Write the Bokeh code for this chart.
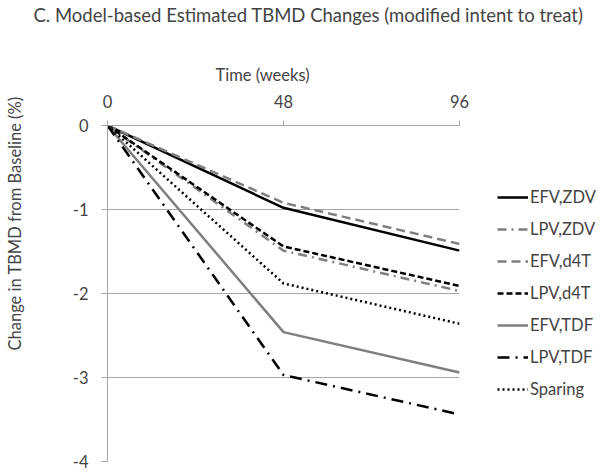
from bokeh.plotting import figure
from bokeh.models import (Range1d, LinearAxis, FixedTicker, Legend, LegendItem, Title)
from bokeh.embed import file_html
from bokeh.resources import INLINE

weeks = [0, 48, 96]
week_ticks = [0, 48, 96]
y_ticks = [0, -1, -2, -3, -4]
y_tick_labels = ["0", "-1", "-2", "-3", "-4"]

series_names = ["EFV,ZDV", "LPV,ZDV", "EFV,d4T", "LPV,d4T", "EFV,TDF", "LPV,TDF", "Sparing"]
efv_zdv = [0, -0.98, -1.49]
lpv_zdv = [0, -1.49, -1.97]
efv_d4t = [0, -0.92, -1.41]
lpv_d4t = [0, -1.44, -1.91]
efv_tdf = [0, -2.46, -2.94]
lpv_tdf = [0, -2.97, -3.44]
sparing = [0, -1.88, -2.36]

FONT = "Lato"
FS = "16.5px"
BLACK = "#000000"
GRAY = "#7f7f7f"
AXC = "#a6a6a6"

p = figure(frame_width=352, frame_height=336, output_backend="svg", toolbar_location=None,
           x_range=Range1d(0, 96), y_range=Range1d(-4, 0),
           x_axis_location=None, y_axis_location=None,
           min_border_left=107, min_border_right=141, min_border_top=124, min_border_bottom=13)
p.outline_line_color = None
p.xgrid.grid_line_color = None
p.ygrid.grid_line_color = AXC
p.ygrid.grid_line_width = 1.2
p.ygrid.ticker = FixedTicker(ticks=y_ticks)

xa = LinearAxis(ticker=FixedTicker(ticks=week_ticks))
xa.axis_line_color = AXC
xa.major_tick_line_color = AXC
xa.major_tick_out = 5
xa.major_tick_in = 0
xa.minor_tick_line_color = None
xa.major_label_text_font = FONT
xa.major_label_text_font_size = FS
xa.major_label_standoff = 13
p.add_layout(xa, "above")

ya = LinearAxis(ticker=FixedTicker(ticks=y_ticks),
                major_label_overrides={t: s for t, s in zip(y_ticks, y_tick_labels)})
ya.axis_line_color = AXC
ya.major_tick_line_color = AXC
ya.major_tick_out = 6
ya.major_tick_in = 0
ya.minor_tick_line_color = None
ya.major_label_text_font = FONT
ya.major_label_text_font_size = FS
ya.major_label_standoff = 13
p.add_layout(ya, "left")

specs = [
    (efv_zdv, BLACK, "solid"),
    (lpv_zdv, GRAY, "9 5 2 5"),
    (efv_d4t, GRAY, "9 5"),
    (lpv_d4t, BLACK, "6 3"),
    (efv_tdf, GRAY, "solid"),
    (lpv_tdf, BLACK, "12 6 2 6"),
    (sparing, BLACK, "2 3"),
]
items = []
for name, (vals, col, dash) in zip(series_names, specs):
    r = p.line(weeks, vals, line_color=col, line_width=2.5, line_dash=dash)
    items.append(LegendItem(label=name, renderers=[r]))

legend = Legend(items=items, location="center_left")
legend.border_line_color = None
legend.background_fill_alpha = 0
legend.label_text_font = FONT
legend.label_text_font_size = FS
legend.glyph_width = 31
legend.spacing = 12
legend.label_standoff = 2
legend.padding = 0
legend.margin = 38
p.add_layout(legend, "right")

xlabel = Title(text="Time (weeks)", text_font=FONT, text_font_size=FS,
               text_font_style="normal", align="left", offset=108, standoff=13)
p.add_layout(xlabel, "above")

spacer_top = Title(text=" ", text_font_size="1px", standoff=27)
p.add_layout(spacer_top, "above")

title = Title(text="C. Model-based Estimated TBMD Changes (modified intent to treat)",
              text_font=FONT, text_font_size="18.5px", text_font_style="normal",
              align="left", offset=-74, standoff=2)
p.add_layout(title, "above")

spacer_left = Title(text=" ", text_font_size="1px", standoff=41)
p.add_layout(spacer_left, "left")

ylabel = Title(text="Change in TBMD from Baseline (%)", text_font=FONT, text_font_size=FS,
               text_font_style="normal", align="left", offset=111, standoff=2)
p.add_layout(ylabel, "left")

open("out.html", "w").write(file_html(p, INLINE))
